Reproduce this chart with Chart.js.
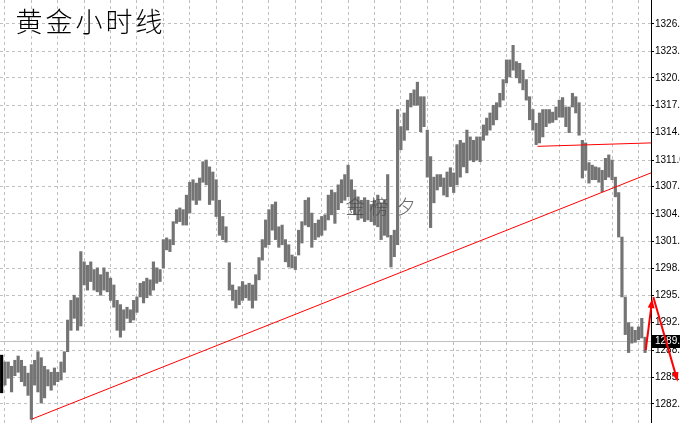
<!DOCTYPE html>
<html>
<head>
<meta charset="utf-8">
<script src="https://cdn.jsdelivr.net/npm/chart.js@4.4.1/dist/chart.umd.min.js"></script>
<style>
  html, body { margin: 0; padding: 0; background: #fff; }
  #wrap { width: 680px; height: 423px; }
</style>
</head>
<body>
<div id="wrap"><canvas id="chart"></canvas></div>
<script>
const titleText = '黄金小时线';
const watermarkText = '金榜夕';

// hourly bars, oldest first: high / low
const highs = [
  1288.2, 1287.4, 1287.4, 1286.9, 1287.6, 1288.1, 1287.6, 1286.9, 1286.1, 1287.1,
  1287.6, 1288.6, 1287.9, 1286.9, 1286.5, 1286.2, 1286.7, 1286.2, 1287.4, 1288.6,
  1292.3, 1294.6, 1295.2, 1294.9, 1300.3, 1299.1, 1298.7, 1299.1, 1298.2, 1298.4,
  1297.6, 1298.4, 1297.9, 1297.2, 1296.4, 1294.6, 1294.1, 1293.5, 1293.8, 1293.5,
  1294.6, 1295.0, 1296.6, 1296.8, 1297.2, 1297.0, 1299.1, 1298.4, 1298.2, 1301.7,
  1301.9, 1301.7, 1303.8, 1305.2, 1305.4, 1305.2, 1306.9, 1308.4, 1308.7, 1308.3,
  1308.9, 1310.8, 1311.0, 1310.2, 1309.6, 1308.7, 1306.3, 1304.4, 1303.2, 1299.0,
  1296.4, 1295.8, 1296.2, 1296.8, 1296.4, 1296.6, 1296.4, 1297.6, 1299.6, 1301.7,
  1304.0, 1305.2, 1305.8, 1306.1, 1303.2, 1303.4, 1301.7, 1301.1, 1299.9, 1299.7,
  1302.8, 1303.8, 1306.3, 1306.6, 1304.8, 1303.6, 1304.0, 1304.4, 1304.6, 1306.9,
  1307.5, 1307.2, 1308.1, 1308.7, 1309.3, 1310.4, 1308.7, 1307.5, 1306.7, 1306.3,
  1306.6, 1306.3, 1305.8, 1306.3, 1306.9, 1306.0, 1306.3, 1309.3, 1302.2, 1302.8,
  1316.9, 1314.9, 1316.5, 1318.0, 1318.8, 1319.2, 1320.1, 1318.4, 1318.4, 1314.5,
  1311.4, 1309.0, 1309.3, 1309.3, 1308.9, 1309.6, 1310.1, 1309.5, 1312.8, 1313.3,
  1313.0, 1314.5, 1313.7, 1313.3, 1313.7, 1313.7, 1315.1, 1315.9, 1316.5, 1317.4,
  1317.7, 1318.8, 1320.4, 1322.7, 1322.7, 1324.4, 1322.5, 1322.3, 1321.5, 1320.4,
  1318.4, 1316.9, 1315.3, 1316.5, 1316.9, 1316.9, 1316.9, 1316.6, 1317.2, 1318.0,
  1318.3, 1317.2, 1317.2, 1318.8, 1318.4, 1317.7, 1313.3, 1313.0, 1310.7, 1310.4,
  1310.2, 1310.1, 1309.8, 1311.2, 1311.6, 1311.0, 1309.0, 1307.2, 1302.0, 1295.0,
  1292.0, 1291.5, 1291.1, 1291.5, 1292.5, 1290.3
];
const lows = [
  1283.8, 1284.7, 1285.5, 1283.9, 1285.8, 1286.2, 1285.1, 1284.6, 1283.5, 1280.7,
  1284.7, 1283.9, 1282.6, 1283.2, 1284.6, 1284.1, 1284.7, 1285.1, 1285.3, 1286.2,
  1288.6, 1291.1, 1292.5, 1291.1, 1291.6, 1296.4, 1295.8, 1296.8, 1295.8, 1295.6,
  1295.2, 1295.8, 1295.6, 1294.6, 1293.8, 1291.1, 1290.3, 1291.1, 1292.5, 1292.0,
  1292.3, 1293.2, 1295.0, 1294.3, 1294.9, 1295.2, 1295.8, 1296.6, 1296.8, 1298.4,
  1300.5, 1300.3, 1301.1, 1303.6, 1303.8, 1303.4, 1303.4, 1304.8, 1306.3, 1305.8,
  1306.3, 1308.4, 1308.1, 1305.8, 1306.3, 1304.4, 1302.2, 1301.7, 1301.4, 1295.8,
  1294.6, 1293.7, 1294.1, 1294.6, 1294.9, 1294.6, 1293.7, 1294.6, 1297.0, 1299.3,
  1300.8, 1301.1, 1302.8, 1301.7, 1300.8, 1301.1, 1299.1, 1298.5, 1298.4, 1298.2,
  1299.9, 1301.3, 1303.4, 1303.2, 1300.8, 1301.7, 1302.0, 1302.2, 1302.8, 1304.0,
  1304.6, 1303.6, 1305.2, 1306.0, 1306.3, 1306.7, 1305.2, 1304.6, 1304.0, 1304.2,
  1303.8, 1304.0, 1303.8, 1303.4, 1303.2, 1301.7, 1302.2, 1302.0, 1298.5, 1299.7,
  1301.1, 1312.2, 1313.3, 1314.5, 1317.2, 1317.4, 1317.4, 1314.3, 1314.9, 1309.0,
  1303.1, 1306.0, 1307.5, 1307.9, 1306.9, 1306.7, 1307.9, 1307.2, 1308.1, 1309.0,
  1310.2, 1309.5, 1311.0, 1310.8, 1311.0, 1310.8, 1313.3, 1313.9, 1314.5, 1315.1,
  1315.7, 1317.2, 1318.0, 1320.0, 1320.7, 1321.5, 1320.6, 1320.0, 1319.2, 1318.0,
  1315.7, 1314.5, 1312.8, 1313.0, 1313.7, 1314.9, 1315.3, 1315.4, 1315.7, 1316.0,
  1316.0, 1314.9, 1314.2, 1317.2, 1316.5, 1313.9, 1308.9, 1309.8, 1308.3, 1308.7,
  1308.7, 1308.4, 1307.3, 1308.7, 1309.0, 1308.7, 1306.7, 1302.0, 1295.0, 1290.6,
  1288.5, 1289.6, 1289.7, 1290.0, 1290.2, 1288.5
];
const lastPrice = 1289.8;

const yTicks = [1282.5, 1285.6, 1288.8, 1292.0, 1295.2, 1298.3, 1301.5, 1304.7,
                1307.9, 1311.0, 1314.2, 1317.4, 1320.6, 1323.7, 1326.9];
const yMin = 1280.27;
const yMax = 1329.70;
// vertical grid every 8 bars
const gridBars = [1, 9, 17, 25, 33, 41, 49, 57, 65, 73, 81, 89, 97, 105, 113,
                  121, 129, 137, 145, 153, 161, 169, 177, 185, 193];
const xMax = 196.8;

// drawn objects, in (bar index, price)
const trendLineUp = [{ x: 9, y: 1280.7 }, { x: 196.8, y: 1309.5 }];
const trendLineTop = [{ x: 162.4, y: 1312.6 }, { x: 196.8, y: 1313.0 }];
const arrows = [
  [{ x: 195.2, y: 1288.8 }, { x: 197.2, y: 1294.8 }],
  [{ x: 197.5, y: 1295.0 }, { x: 204.9, y: 1285.1 }]
];

const barData = highs.map((h, i) => ({ x: i, y: [lows[i], h] }));

const decorPlugin = {
  id: 'decor',
  beforeDatasetsDraw(chart) {
    const { ctx, chartArea, scales: { y } } = chart;
    const py = Math.round(y.getPixelForValue(lastPrice)) + 0.5;
    ctx.save();
    ctx.strokeStyle = '#c0c0c0';
    ctx.lineWidth = 1;
    ctx.beginPath();
    ctx.moveTo(chartArea.left, py);
    ctx.lineTo(chartArea.right, py);
    ctx.stroke();
    ctx.restore();
  },
  afterDraw(chart) {
    const { ctx, chartArea, scales: { x, y } } = chart;
    ctx.save();

    // watermark
    ctx.fillStyle = 'rgba(70,70,70,0.8)';
    ctx.font = '300 19px "Noto Sans CJK SC"';
    ctx.textAlign = 'center';
    ctx.textBaseline = 'middle';
    [355, 379, 406].forEach((cx, k) => ctx.fillText(watermarkText[k], cx, 207));

    // title
    ctx.fillStyle = '#000';
    ctx.font = '300 27px "Noto Sans CJK SC"';
    Array.from(titleText).forEach((ch, k) => ctx.fillText(ch, 29 + k * 30, 22));

    // price label
    const py = Math.round(y.getPixelForValue(lastPrice));
    ctx.fillStyle = '#000';
    ctx.fillRect(chartArea.right + 1, py - 6, 30, 13);
    ctx.fillStyle = '#fff';
    ctx.font = '10px "Liberation Sans"';
    ctx.textAlign = 'left';
    ctx.fillText(lastPrice.toFixed(1), chartArea.right + 4, py + 0.5);

    // arrows
    ctx.strokeStyle = '#ff0000';
    ctx.fillStyle = '#ff0000';
    ctx.lineWidth = 2;
    arrows.forEach(([a, b]) => {
      const x1 = x.getPixelForValue(a.x), y1 = y.getPixelForValue(a.y);
      const x2 = x.getPixelForValue(b.x), y2 = y.getPixelForValue(b.y);
      const ang = Math.atan2(y2 - y1, x2 - x1);
      ctx.beginPath();
      ctx.moveTo(x1, y1);
      ctx.lineTo(x2 - 5 * Math.cos(ang), y2 - 5 * Math.sin(ang));
      ctx.stroke();
      ctx.beginPath();
      ctx.moveTo(x2, y2);
      ctx.lineTo(x2 - 10 * Math.cos(ang - 0.35), y2 - 10 * Math.sin(ang - 0.35));
      ctx.lineTo(x2 - 10 * Math.cos(ang + 0.35), y2 - 10 * Math.sin(ang + 0.35));
      ctx.closePath();
      ctx.fill();
    });
    ctx.restore();
  }
};

new Chart(document.getElementById('chart'), {
  type: 'bar',
  data: {
    datasets: [
      {
        type: 'bar',
        data: barData,
        backgroundColor: ctx => (ctx.dataIndex === 0 ? '#000' : '#747474'),
        barThickness: 2.5,
        grouped: false,
        order: 2
      },
      {
        type: 'line',
        data: trendLineUp,
        borderColor: '#ff0000',
        borderWidth: 1,
        pointRadius: 0,
        fill: false,
        order: 1
      },
      {
        type: 'line',
        data: trendLineTop,
        borderColor: '#ff0000',
        borderWidth: 1,
        pointRadius: 0,
        fill: false,
        order: 1
      }
    ]
  },
  options: {
    responsive: true,
    maintainAspectRatio: false,
    animation: false,
    layout: { padding: 0 },
    plugins: { legend: { display: false }, tooltip: { enabled: false } },
    scales: {
      x: {
        type: 'linear',
        min: -0.5,
        max: xMax,
        offset: false,
        afterBuildTicks: s => { s.ticks = gridBars.map(v => ({ value: v })); },
        afterFit: s => { s.height = 0; s.paddingLeft = 0; s.paddingRight = 0; },
        ticks: { display: false },
        grid: { color: '#c0c0c0', drawTicks: false, offset: false },
        border: { display: false, dash: [3, 3] }
      },
      y: {
        position: 'right',
        min: yMin,
        max: yMax,
        afterBuildTicks: s => { s.ticks = yTicks.map(v => ({ value: v })); },
        afterFit: s => { s.width = 29; s.paddingTop = 0; s.paddingBottom = 0; },
        ticks: {
          color: '#000',
          font: { family: 'Liberation Sans', size: 10 },
          padding: 1,
          autoSkip: false,
          callback: v => Number(v).toFixed(1)
        },
        grid: { color: '#c0c0c0', tickColor: '#000', tickLength: 3, tickBorderDash: [] },
        border: { display: true, color: '#000', dash: [3, 3] }
      }
    }
  },
  plugins: [decorPlugin]
});
</script>
</body>
</html>
